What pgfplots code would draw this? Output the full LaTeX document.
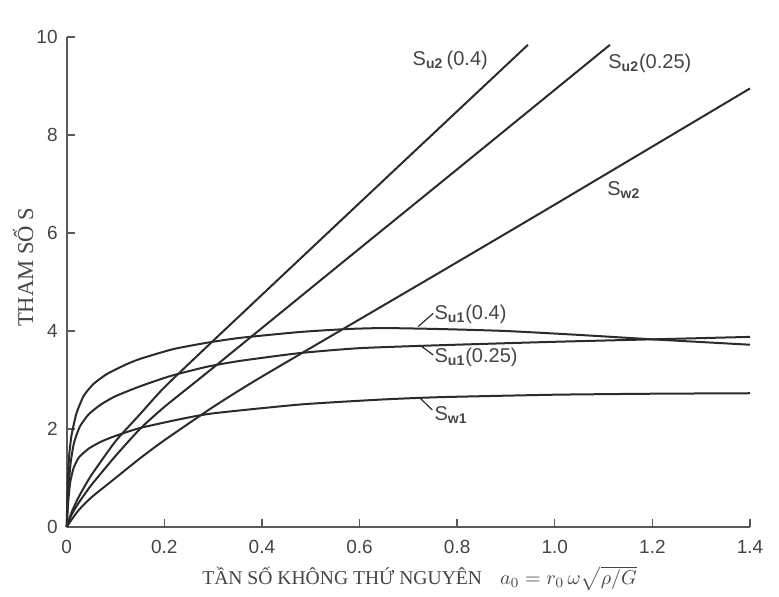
\documentclass[border=0pt]{standalone}
\usepackage{fontspec}
\setmainfont{Liberation Serif}
\setsansfont{Liberation Sans}
\usepackage{pgfplots}
\pgfplotsset{compat=1.18}
\definecolor{ink}{HTML}{2B2B2B}
\definecolor{axc}{HTML}{5A5A5A}
\definecolor{txt}{HTML}{454545}
\begin{document}
\begin{tikzpicture}
\useasboundingbox (-33.35pt,-34.5pt) rectangle (356.15pt,263.5pt);
\begin{axis}[
  at={(0pt,0pt)}, anchor=south west,
  scale only axis, width=341.65pt, height=245pt,
  xmin=0, xmax=1.4, ymin=0, ymax=10,
  axis lines=left, axis line style={-, axc, line width=0.8pt},
  tick align=inside, major tick length=4pt, tick style={axc, line width=0.7pt},
  xtick={0,0.2,0.4,0.6,0.8,1.0,1.2,1.4},
  xticklabels={0,0.2,0.4,0.6,0.8,1.0,1.2,1.4},
  ytick={0,2,4,6,8,10}, yticklabels={0,2,4,6,8,10},
  ticklabel style={font=\sffamily\fontsize{9.5}{10}\selectfont, text=txt},
  xticklabel style={yshift=-3pt},
  yticklabel style={xshift=-1pt},
  clip=false,
]
% S_u1(0.4)
\addplot[ink, line width=1pt, smooth, tension=0.35] coordinates {
(0,0) (0.002,0.85) (0.005,1.45) (0.01,1.88) (0.02,2.32) (0.035,2.68) (0.055,2.92)
(0.082,3.12) (0.12,3.31) (0.15,3.43) (0.218,3.63) (0.287,3.76) (0.355,3.86)
(0.478,3.98) (0.574,4.04) (0.65,4.06) (0.765,4.04) (0.9,4.0) (1.05,3.92)
(1.2,3.83) (1.4,3.72)};
% S_u1(0.25)
\addplot[ink, line width=1pt, smooth, tension=0.35] coordinates {
(0,0) (0.003,0.7) (0.008,1.3) (0.015,1.72) (0.027,2.05) (0.045,2.3) (0.07,2.5)
(0.1,2.67) (0.15,2.87) (0.212,3.08) (0.287,3.27) (0.355,3.39) (0.478,3.55) (0.6,3.65)
(0.765,3.71) (1.0,3.78) (1.2,3.83) (1.4,3.88)};
% S_w1
\addplot[ink, line width=1pt, smooth, tension=0.35] coordinates {
(0,0) (0.003,0.5) (0.007,0.9) (0.014,1.2) (0.025,1.42) (0.045,1.6) (0.07,1.74)
(0.1,1.86) (0.15,2.02) (0.232,2.2) (0.3,2.32) (0.478,2.5) (0.642,2.6) (0.765,2.65)
(1.0,2.7) (1.2,2.72) (1.4,2.73)};
% S_u2(0.4)
\addplot[ink, line width=1pt, smooth, tension=0.35] coordinates {
(0,0) (0.01,0.3) (0.025,0.62) (0.05,1.05) (0.1,1.75) (0.15,2.3) (0.2,2.85)
(0.3,3.8) (0.478,5.47) (0.7,7.55) (0.945,9.84)};
% S_u2(0.25)
\addplot[ink, line width=1pt, smooth, tension=0.35] coordinates {
(0,0) (0.01,0.25) (0.025,0.5) (0.05,0.85) (0.1,1.45) (0.15,2.0) (0.2,2.45)
(0.3,3.25) (0.57,5.44) (0.8,7.3) (1.113,9.84)};
% S_w2
\addplot[ink, line width=1pt, smooth, tension=0.35] coordinates {
(0,0) (0.01,0.15) (0.025,0.35) (0.05,0.6) (0.1,1.0) (0.15,1.4) (0.2,1.77)
(0.3,2.45) (0.4,3.07) (0.765,5.2) (1.0,6.58) (1.4,8.95)};

% leaders
\draw[ink, line width=0.6pt] (axis cs:0.720,4.09) -- (axis cs:0.751,4.36);
\draw[ink, line width=0.6pt] (axis cs:0.724,3.71) -- (axis cs:0.751,3.51);
\draw[ink, line width=0.6pt] (axis cs:0.724,2.63) -- (axis cs:0.749,2.39);

\begin{scope}[every node/.style={anchor=west, inner sep=0pt, text=txt, font=\sffamily\fontsize{10}{12}\selectfont}]
\node at (axis cs:0.708,9.53) {S\textsubscript{\textbf{u2}}\,(0.4)};
\node at (axis cs:1.109,9.47) {S\textsubscript{\textbf{u2}}(0.25)};
\node at (axis cs:1.107,6.88) {S\textsubscript{\textbf{w2}}};
\node at (axis cs:0.753,4.34) {S\textsubscript{\textbf{u1}}(0.4)};
\node at (axis cs:0.753,3.46) {S\textsubscript{\textbf{u1}}(0.25)};
\node at (axis cs:0.753,2.29) {S\textsubscript{\textbf{w1}}};
\end{scope}

\node[anchor=base west, inner sep=0pt, text=txt, font=\fontsize{9.8}{12}\selectfont]
  at (axis cs:0.277,-1.18) {TẦN SỐ KHÔNG THỨ NGUYÊN\hspace{9pt}$a_0 = r_0\,\omega\sqrt{\rho/G}$};
\node[anchor=base, rotate=90, inner sep=0pt, text=txt, font=\fontsize{11.3}{13}\selectfont]
  at (axis cs:-0.069,5.30) {THAM SỐ S};
\end{axis}
\end{tikzpicture}
\end{document}
